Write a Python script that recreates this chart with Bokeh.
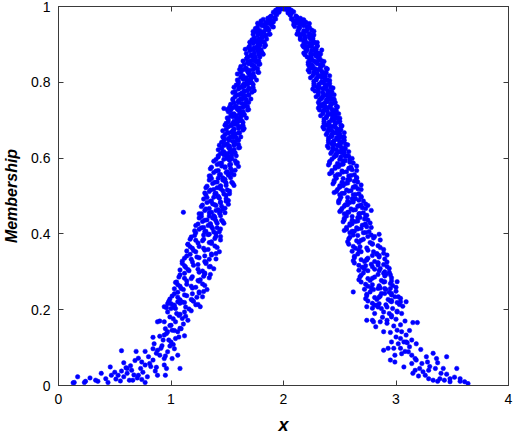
from bokeh.plotting import figure
from bokeh.models import Range1d, LinearAxis, FixedTicker, ColumnDataSource
from bokeh.embed import file_html
from bokeh.resources import INLINE

# ---- data ----
x_ticks = [0, 1, 2, 3, 4]
y_ticks = [0, 0.2, 0.4, 0.6, 0.8, 1]
x_tick_labels = ["0", "1", "2", "3", "4"]
y_tick_labels = ["0", "0.2", "0.4", "0.6", "0.8", "1"]

cap_points = [
    (2.00, 1.000), (1.99, 1.000), (1.97, 0.998), (1.95, 0.995), (1.93, 0.990), (1.96, 0.985), (1.91, 0.985),
    (1.94, 0.978), (1.89, 0.975), (1.92, 0.970), (1.87, 0.965), (1.98, 0.993), (1.90, 0.962),
    (1.88, 0.972), (1.93, 0.981), (1.96, 0.992), (1.85, 0.958), (1.99, 0.996),
    (2.01, 1.000), (2.03, 0.997), (2.05, 0.994), (2.07, 0.990), (2.04, 0.983), (2.09, 0.986),
    (2.06, 0.977), (2.11, 0.975), (2.08, 0.968), (2.13, 0.966), (2.02, 0.992), (2.10, 0.960),
    (2.12, 0.972), (2.07, 0.982), (2.04, 0.991), (2.15, 0.958), (2.00, 0.999),
]

left_upper = [
    (1.80, 0.962), (1.84, 0.957), (1.87, 0.965), (1.91, 0.959),
    (1.80, 0.953), (1.84, 0.948), (1.87, 0.955), (1.91, 0.946),
    (1.75, 0.942), (1.79, 0.937), (1.84, 0.944), (1.86, 0.939),
    (1.76, 0.933), (1.80, 0.928), (1.83, 0.935), (1.87, 0.927),
    (1.77, 0.923), (1.81, 0.918), (1.84, 0.924), (1.74, 0.916),
    (1.72, 0.912), (1.76, 0.907), (1.79, 0.914), (1.83, 0.905),
    (1.73, 0.903), (1.77, 0.897), (1.80, 0.905), (1.84, 0.898),
    (1.69, 0.892), (1.73, 0.887), (1.78, 0.894), (1.80, 0.886),
    (1.70, 0.883), (1.74, 0.877), (1.77, 0.884), (1.81, 0.878),
    (1.71, 0.872), (1.75, 0.867), (1.78, 0.874), (1.68, 0.866),
    (1.67, 0.862), (1.71, 0.857), (1.74, 0.864), (1.78, 0.856),
    (1.68, 0.853), (1.72, 0.847), (1.75, 0.855), (1.79, 0.848),
    (1.62, 0.842), (1.67, 0.837), (1.72, 0.844), (1.77, 0.836),
    (1.64, 0.833), (1.69, 0.827), (1.73, 0.834), (1.78, 0.826),
    (1.59, 0.822), (1.64, 0.817), (1.69, 0.824), (1.73, 0.818),
    (1.62, 0.813), (1.67, 0.807), (1.71, 0.814), (1.76, 0.806),
    (1.60, 0.802), (1.65, 0.797), (1.68, 0.805), (1.72, 0.798),
    (1.58, 0.793), (1.63, 0.787), (1.68, 0.794), (1.73, 0.786),
    (1.60, 0.782), (1.65, 0.777), (1.69, 0.784), (1.74, 0.778),
    (1.55, 0.773), (1.60, 0.767), (1.65, 0.775), (1.69, 0.766),
    (1.57, 0.762), (1.62, 0.757), (1.66, 0.764), (1.71, 0.756),
    (1.55, 0.753), (1.60, 0.747), (1.63, 0.755), (1.67, 0.748),
    (1.53, 0.742), (1.58, 0.737), (1.63, 0.744), (1.68, 0.736),
    (1.55, 0.733), (1.60, 0.727), (1.64, 0.734), (1.69, 0.728),
    (1.51, 0.722), (1.56, 0.717), (1.61, 0.725), (1.65, 0.716),
    (1.53, 0.712), (1.58, 0.707), (1.62, 0.714), (1.67, 0.706),
    (1.51, 0.703), (1.56, 0.697), (1.59, 0.705), (1.63, 0.698),
    (1.49, 0.692), (1.54, 0.687), (1.59, 0.694), (1.64, 0.686),
    (1.51, 0.683), (1.56, 0.677), (1.60, 0.684), (1.65, 0.678),
    (1.46, 0.672), (1.51, 0.667), (1.56, 0.675), (1.60, 0.666),
    (1.48, 0.662), (1.53, 0.657), (1.57, 0.664), (1.62, 0.656),
    (1.47, 0.653), (1.52, 0.647), (1.55, 0.655), (1.59, 0.648),
    (1.45, 0.642), (1.50, 0.637), (1.55, 0.644), (1.60, 0.636),
    (1.47, 0.633), (1.52, 0.627), (1.56, 0.634), (1.61, 0.628),
    (1.42, 0.622), (1.47, 0.617), (1.52, 0.625), (1.56, 0.616),
    (1.44, 0.612), (1.49, 0.607), (1.53, 0.614), (1.58, 0.606),
    (1.42, 0.603), (1.47, 0.597), (1.50, 0.605), (1.54, 0.598),
    (1.47, 0.731), (1.50, 0.728),
]

left_upper_b = [
    (1.82, 0.966), (1.86, 0.969), (1.89, 0.963), (1.93, 0.967),
    (1.77, 0.956), (1.82, 0.952), (1.86, 0.958), (1.89, 0.954),
    (1.77, 0.946), (1.81, 0.949), (1.86, 0.943), (1.90, 0.947),
    (1.78, 0.936), (1.82, 0.932), (1.87, 0.938), (1.73, 0.934),
    (1.73, 0.926), (1.79, 0.929), (1.84, 0.923), (1.88, 0.927),
    (1.74, 0.916), (1.78, 0.912), (1.81, 0.918), (1.85, 0.914),
    (1.70, 0.906), (1.75, 0.909), (1.79, 0.903), (1.82, 0.907),
    (1.70, 0.896), (1.74, 0.892), (1.79, 0.898), (1.83, 0.894),
    (1.71, 0.886), (1.75, 0.889), (1.80, 0.883), (1.66, 0.887),
    (1.67, 0.876), (1.73, 0.872), (1.78, 0.878), (1.82, 0.874),
    (1.68, 0.866), (1.72, 0.869), (1.75, 0.863), (1.79, 0.867),
    (1.64, 0.856), (1.69, 0.852), (1.73, 0.858), (1.76, 0.854),
    (1.65, 0.846), (1.69, 0.849), (1.74, 0.843), (1.78, 0.847),
    (1.66, 0.836), (1.70, 0.832), (1.75, 0.838), (1.61, 0.834),
    (1.62, 0.826), (1.68, 0.829), (1.73, 0.823), (1.77, 0.827),
    (1.63, 0.816), (1.67, 0.812), (1.70, 0.818), (1.74, 0.814),
    (1.59, 0.806), (1.64, 0.809), (1.68, 0.803), (1.71, 0.807),
    (1.60, 0.796), (1.64, 0.792), (1.69, 0.798), (1.73, 0.794),
    (1.61, 0.786), (1.65, 0.789), (1.70, 0.783), (1.56, 0.787),
    (1.57, 0.776), (1.63, 0.772), (1.68, 0.778), (1.72, 0.774),
    (1.58, 0.766), (1.62, 0.769), (1.65, 0.763), (1.69, 0.767),
    (1.55, 0.756), (1.60, 0.752), (1.64, 0.758), (1.67, 0.754),
    (1.56, 0.746), (1.60, 0.749), (1.65, 0.743), (1.69, 0.747),
    (1.57, 0.736), (1.61, 0.732), (1.66, 0.738), (1.52, 0.734),
    (1.53, 0.726), (1.59, 0.729), (1.64, 0.723), (1.68, 0.727),
    (1.54, 0.716), (1.58, 0.712), (1.61, 0.718), (1.65, 0.714),
    (1.50, 0.706), (1.55, 0.709), (1.59, 0.703), (1.62, 0.707),
    (1.51, 0.696), (1.55, 0.692), (1.60, 0.698), (1.64, 0.694),
    (1.53, 0.686), (1.57, 0.689), (1.62, 0.683), (1.48, 0.687),
    (1.49, 0.676), (1.55, 0.672), (1.60, 0.678), (1.64, 0.674),
    (1.50, 0.666), (1.54, 0.669), (1.57, 0.663), (1.61, 0.667),
    (1.46, 0.656), (1.51, 0.652), (1.55, 0.658), (1.58, 0.654),
    (1.47, 0.646), (1.51, 0.649), (1.56, 0.643), (1.60, 0.647),
    (1.48, 0.636), (1.52, 0.632), (1.57, 0.638), (1.43, 0.634),
    (1.45, 0.626), (1.51, 0.629), (1.56, 0.623), (1.60, 0.627),
    (1.46, 0.616), (1.50, 0.612), (1.53, 0.618), (1.57, 0.614),
    (1.42, 0.606), (1.47, 0.609), (1.51, 0.603), (1.54, 0.607),
]

left_middle = [
    (1.38, 0.592), (1.45, 0.587), (1.52, 0.594), (1.58, 0.586),
    (1.41, 0.583), (1.48, 0.577), (1.53, 0.584), (1.60, 0.578),
    (1.35, 0.572), (1.42, 0.567), (1.48, 0.575), (1.54, 0.566),
    (1.38, 0.562), (1.44, 0.557), (1.50, 0.564), (1.56, 0.556),
    (1.35, 0.553), (1.42, 0.547), (1.51, 0.555), (1.46, 0.548),
    (1.34, 0.542), (1.41, 0.537), (1.48, 0.544), (1.54, 0.536),
    (1.37, 0.533), (1.44, 0.527), (1.49, 0.534), (1.56, 0.528),
    (1.31, 0.522), (1.38, 0.517), (1.44, 0.525), (1.50, 0.516),
    (1.34, 0.512), (1.40, 0.507), (1.46, 0.514), (1.52, 0.506),
    (1.31, 0.503), (1.38, 0.497), (1.47, 0.505), (1.42, 0.498),
    (1.29, 0.492), (1.36, 0.487), (1.43, 0.494), (1.49, 0.486),
    (1.32, 0.483), (1.39, 0.477), (1.44, 0.484), (1.51, 0.478),
    (1.27, 0.472), (1.34, 0.467), (1.40, 0.475), (1.46, 0.466),
    (1.30, 0.462), (1.36, 0.457), (1.42, 0.464), (1.48, 0.456),
    (1.27, 0.453), (1.34, 0.447), (1.43, 0.455), (1.38, 0.448),
    (1.25, 0.442), (1.32, 0.437), (1.39, 0.444), (1.45, 0.436),
    (1.28, 0.433), (1.35, 0.427), (1.40, 0.434), (1.47, 0.428),
    (1.22, 0.422), (1.29, 0.417), (1.35, 0.425), (1.41, 0.416),
    (1.25, 0.412), (1.31, 0.407), (1.37, 0.414), (1.43, 0.406),
    (1.22, 0.403), (1.29, 0.397), (1.38, 0.405), (1.33, 0.398),
    (1.11, 0.457),
    (1.40, 0.596), (1.50, 0.599), (1.57, 0.593),
    (1.43, 0.586), (1.52, 0.582), (1.59, 0.588),
    (1.36, 0.576), (1.45, 0.579), (1.53, 0.573),
    (1.40, 0.566), (1.49, 0.562), (1.57, 0.568),
    (1.43, 0.556), (1.53, 0.559), (1.34, 0.553),
    (1.36, 0.546), (1.46, 0.542), (1.53, 0.548),
    (1.39, 0.536), (1.48, 0.539), (1.55, 0.533),
    (1.32, 0.526), (1.41, 0.522), (1.49, 0.528),
    (1.35, 0.516), (1.44, 0.519), (1.52, 0.513),
    (1.39, 0.506), (1.49, 0.502), (1.30, 0.508),
    (1.32, 0.496), (1.42, 0.499), (1.49, 0.493),
    (1.35, 0.486), (1.44, 0.482), (1.51, 0.488),
    (1.28, 0.476), (1.37, 0.479), (1.45, 0.473),
    (1.31, 0.466), (1.40, 0.462), (1.48, 0.468),
    (1.34, 0.456), (1.44, 0.459), (1.25, 0.453),
    (1.27, 0.446), (1.37, 0.442), (1.44, 0.448),
    (1.30, 0.436), (1.39, 0.439), (1.46, 0.433),
    (1.24, 0.426), (1.33, 0.422), (1.41, 0.428),
    (1.27, 0.416), (1.36, 0.419), (1.44, 0.413),
    (1.30, 0.406), (1.40, 0.402), (1.21, 0.408),
]

left_lower = [
    (1.18, 0.392), (1.29, 0.386), (1.40, 0.394),
    (1.22, 0.383), (1.34, 0.377), (1.44, 0.384),
    (1.15, 0.372), (1.25, 0.367), (1.36, 0.375),
    (1.19, 0.362), (1.30, 0.357), (1.41, 0.364),
    (1.22, 0.353), (1.36, 0.347), (1.14, 0.355),
    (1.14, 0.342), (1.25, 0.337), (1.36, 0.344),
    (1.18, 0.333), (1.30, 0.327), (1.40, 0.334),
    (1.10, 0.322), (1.20, 0.317), (1.31, 0.325),
    (1.13, 0.312), (1.24, 0.307), (1.35, 0.314),
    (1.16, 0.303), (1.30, 0.297), (1.08, 0.305),
    (1.08, 0.292), (1.19, 0.287), (1.30, 0.294),
    (1.12, 0.283), (1.24, 0.277), (1.34, 0.284),
    (1.04, 0.272), (1.14, 0.267), (1.25, 0.275),
    (1.08, 0.262), (1.19, 0.257), (1.30, 0.264),
    (1.11, 0.253), (1.25, 0.247), (1.03, 0.255),
    (1.03, 0.242), (1.14, 0.237), (1.25, 0.244),
    (1.06, 0.233), (1.18, 0.227), (1.28, 0.234),
    (0.98, 0.222), (1.08, 0.217), (1.19, 0.225),
    (1.02, 0.212), (1.13, 0.207), (1.24, 0.214),
    (1.04, 0.203), (1.18, 0.197), (0.96, 0.205),
    (1.21, 0.396), (1.34, 0.399), (1.44, 0.393),
    (1.17, 0.386), (1.28, 0.382), (1.39, 0.388),
    (1.24, 0.376), (1.36, 0.379), (1.15, 0.373),
    (1.17, 0.366), (1.29, 0.362), (1.39, 0.368),
    (1.20, 0.356), (1.33, 0.359), (1.43, 0.353),
    (1.17, 0.346), (1.30, 0.342), (1.40, 0.348),
    (1.12, 0.336), (1.23, 0.339), (1.34, 0.333),
    (1.19, 0.326), (1.31, 0.322), (1.10, 0.328),
    (1.12, 0.316), (1.24, 0.319), (1.34, 0.313),
    (1.15, 0.306), (1.28, 0.302), (1.38, 0.308),
    (1.12, 0.296), (1.25, 0.299), (1.35, 0.293),
    (1.07, 0.286), (1.18, 0.282), (1.29, 0.288),
    (1.14, 0.276), (1.26, 0.279), (1.05, 0.273),
    (1.06, 0.266), (1.18, 0.262), (1.28, 0.268),
    (1.09, 0.256), (1.22, 0.259), (1.32, 0.253),
    (1.06, 0.246), (1.19, 0.242), (1.29, 0.248),
    (1.01, 0.236), (1.12, 0.239), (1.23, 0.233),
    (1.08, 0.226), (1.20, 0.222), (0.99, 0.228),
    (1.00, 0.216), (1.12, 0.219), (1.22, 0.213),
    (1.03, 0.206), (1.16, 0.202), (1.26, 0.208),
]

left_tail = [
    (0.13, 0.007), (0.14, 0.008), (0.17, 0.023), (0.23, 0.008), (0.24, 0.011), (0.33, 0.014),
    (0.35, 0.011), (0.38, 0.032), (0.42, 0.018), (0.46, 0.049), (0.47, 0.027), (0.51, 0.017),
    (0.53, 0.027), (0.56, 0.038), (0.58, 0.023), (0.60, 0.047), (0.61, 0.045), (0.63, 0.014),
    (0.65, 0.040), (0.66, 0.014), (0.70, 0.020), (0.71, 0.027), (0.73, 0.045), (0.74, 0.062),
    (0.74, 0.016), (0.77, 0.054), (0.79, 0.023), (0.81, 0.058), (0.84, 0.067), (0.88, 0.027),
    (0.87, 0.048), (0.94, 0.054), (0.96, 0.045), (0.94, 0.071), (0.90, 0.080), (0.91, 0.098),
    (0.97, 0.089), (1.01, 0.071), (1.00, 0.115), (1.03, 0.097), (1.06, 0.080), (1.04, 0.124),
    (0.85, 0.110), (0.88, 0.093), (0.84, 0.097), (0.93, 0.120), (0.94, 0.133), (0.97, 0.142),
    (1.01, 0.146), (1.06, 0.142), (1.00, 0.159), (1.04, 0.168), (1.09, 0.150), (1.10, 0.177),
    (1.07, 0.185), (1.12, 0.194), (0.90, 0.170), (0.94, 0.168), (0.97, 0.194), (1.00, 0.203),
    (1.03, 0.212), (0.97, 0.216), (0.94, 0.208), (1.06, 0.221), (1.10, 0.220), (0.56, 0.092),
    (0.69, 0.090), (0.77, 0.090), (0.84, 0.127), (0.88, 0.168), (1.08, 0.188), (1.13, 0.183),
    (1.02, 0.176), (1.15, 0.172), (0.99, 0.158), (1.08, 0.151), (0.96, 0.137), (1.12, 0.131),
    (0.92, 0.105), (0.99, 0.104), (0.80, 0.076), (0.68, 0.066), (0.61, 0.032), (0.55, 0.012),
    (0.86, 0.038), (0.77, 0.008), (0.64, 0.052), (0.71, 0.072), (1.08, 0.045), (0.95, 0.027),
    (1.05, 0.190), (0.99, 0.181), (1.11, 0.162), (1.03, 0.145), (0.95, 0.150), (1.07, 0.128),
    (0.98, 0.120), (0.90, 0.130), (1.02, 0.108), (0.87, 0.085), (0.95, 0.078), (0.82, 0.050),
    (0.75, 0.035), (0.67, 0.028), (0.58, 0.060), (0.50, 0.035), (0.44, 0.008), (0.28, 0.020),
]

right_upper = [
    (2.09, 0.961), (2.13, 0.956), (2.17, 0.964), (2.20, 0.958),
    (2.09, 0.952), (2.14, 0.946), (2.18, 0.954), (2.21, 0.947),
    (2.14, 0.943), (2.18, 0.936), (2.22, 0.945), (2.25, 0.938),
    (2.13, 0.932), (2.16, 0.927), (2.20, 0.934), (2.24, 0.926),
    (2.15, 0.921), (2.19, 0.916), (2.23, 0.924), (2.26, 0.917),
    (2.15, 0.913), (2.20, 0.906), (2.24, 0.914), (2.27, 0.907),
    (2.19, 0.902), (2.23, 0.896), (2.27, 0.904), (2.30, 0.897),
    (2.18, 0.893), (2.21, 0.886), (2.25, 0.894), (2.29, 0.887),
    (2.20, 0.881), (2.24, 0.876), (2.28, 0.884), (2.31, 0.877),
    (2.19, 0.873), (2.24, 0.866), (2.28, 0.874), (2.31, 0.867),
    (2.23, 0.862), (2.27, 0.856), (2.31, 0.864), (2.34, 0.857),
    (2.22, 0.853), (2.25, 0.846), (2.29, 0.854), (2.33, 0.847),
    (2.23, 0.841), (2.28, 0.836), (2.33, 0.843), (2.38, 0.837),
    (2.22, 0.832), (2.27, 0.827), (2.32, 0.834), (2.37, 0.826),
    (2.27, 0.823), (2.32, 0.816), (2.37, 0.824), (2.41, 0.817),
    (2.24, 0.812), (2.29, 0.807), (2.34, 0.814), (2.39, 0.806),
    (2.27, 0.803), (2.32, 0.796), (2.37, 0.804), (2.41, 0.797),
    (2.27, 0.791), (2.32, 0.786), (2.37, 0.793), (2.42, 0.787),
    (2.26, 0.782), (2.31, 0.777), (2.36, 0.784), (2.41, 0.776),
    (2.31, 0.773), (2.36, 0.766), (2.41, 0.774), (2.45, 0.767),
    (2.29, 0.762), (2.34, 0.757), (2.39, 0.764), (2.44, 0.756),
    (2.32, 0.753), (2.37, 0.746), (2.42, 0.754), (2.46, 0.747),
    (2.32, 0.741), (2.37, 0.736), (2.42, 0.743), (2.47, 0.737),
    (2.31, 0.732), (2.36, 0.727), (2.41, 0.734), (2.46, 0.726),
    (2.35, 0.723), (2.40, 0.716), (2.45, 0.724), (2.49, 0.717),
    (2.33, 0.712), (2.38, 0.707), (2.43, 0.714), (2.48, 0.706),
    (2.36, 0.703), (2.41, 0.696), (2.46, 0.704), (2.50, 0.697),
    (2.36, 0.691), (2.41, 0.686), (2.46, 0.693), (2.51, 0.687),
    (2.35, 0.682), (2.40, 0.677), (2.45, 0.684), (2.50, 0.676),
    (2.40, 0.673), (2.45, 0.666), (2.50, 0.674), (2.54, 0.667),
    (2.38, 0.662), (2.43, 0.657), (2.48, 0.664), (2.53, 0.656),
    (2.40, 0.653), (2.45, 0.646), (2.50, 0.654), (2.54, 0.647),
    (2.40, 0.641), (2.45, 0.636), (2.50, 0.643), (2.55, 0.637),
    (2.39, 0.632), (2.44, 0.627), (2.49, 0.634), (2.54, 0.626),
    (2.44, 0.623), (2.49, 0.616), (2.54, 0.624), (2.58, 0.617),
    (2.42, 0.612), (2.47, 0.607), (2.52, 0.614), (2.57, 0.606),
    (2.45, 0.603), (2.50, 0.596), (2.55, 0.604), (2.59, 0.597),
]

right_upper_b = [
    (2.07, 0.967), (2.11, 0.963), (2.15, 0.969), (2.18, 0.965),
    (2.11, 0.957), (2.16, 0.953), (2.19, 0.959), (2.23, 0.955),
    (2.10, 0.947), (2.14, 0.943), (2.18, 0.949), (2.23, 0.945),
    (2.13, 0.937), (2.18, 0.933), (2.21, 0.939), (2.27, 0.935),
    (2.12, 0.927), (2.19, 0.923), (2.23, 0.929), (2.27, 0.925),
    (2.15, 0.917), (2.19, 0.913), (2.23, 0.919), (2.26, 0.915),
    (2.18, 0.907), (2.23, 0.903), (2.26, 0.909), (2.30, 0.905),
    (2.17, 0.897), (2.21, 0.893), (2.25, 0.899), (2.30, 0.895),
    (2.20, 0.887), (2.25, 0.883), (2.28, 0.889), (2.34, 0.885),
    (2.18, 0.877), (2.25, 0.873), (2.29, 0.879), (2.33, 0.875),
    (2.21, 0.867), (2.25, 0.863), (2.29, 0.869), (2.32, 0.865),
    (2.24, 0.857), (2.29, 0.853), (2.32, 0.859), (2.36, 0.855),
    (2.22, 0.847), (2.26, 0.843), (2.30, 0.849), (2.35, 0.845),
    (2.25, 0.837), (2.30, 0.833), (2.33, 0.839), (2.39, 0.835),
    (2.23, 0.827), (2.30, 0.823), (2.34, 0.829), (2.38, 0.825),
    (2.26, 0.817), (2.30, 0.813), (2.34, 0.819), (2.37, 0.815),
    (2.29, 0.807), (2.34, 0.803), (2.37, 0.809), (2.41, 0.805),
    (2.27, 0.797), (2.31, 0.793), (2.35, 0.799), (2.40, 0.795),
    (2.30, 0.787), (2.35, 0.783), (2.38, 0.789), (2.44, 0.785),
    (2.28, 0.777), (2.35, 0.773), (2.39, 0.779), (2.43, 0.775),
    (2.31, 0.767), (2.35, 0.763), (2.39, 0.769), (2.42, 0.765),
    (2.33, 0.757), (2.38, 0.753), (2.41, 0.759), (2.45, 0.755),
    (2.31, 0.747), (2.35, 0.743), (2.39, 0.749), (2.44, 0.745),
    (2.34, 0.737), (2.39, 0.733), (2.42, 0.739), (2.48, 0.735),
    (2.32, 0.727), (2.39, 0.723), (2.43, 0.729), (2.47, 0.725),
    (2.35, 0.717), (2.39, 0.713), (2.43, 0.719), (2.46, 0.715),
    (2.38, 0.707), (2.43, 0.703), (2.46, 0.709), (2.50, 0.705),
    (2.36, 0.697), (2.40, 0.693), (2.44, 0.699), (2.49, 0.695),
    (2.38, 0.687), (2.43, 0.683), (2.46, 0.689), (2.52, 0.685),
    (2.36, 0.677), (2.43, 0.673), (2.47, 0.679), (2.51, 0.675),
    (2.39, 0.667), (2.43, 0.663), (2.47, 0.669), (2.50, 0.665),
    (2.42, 0.657), (2.47, 0.653), (2.50, 0.659), (2.54, 0.655),
    (2.40, 0.647), (2.44, 0.643), (2.48, 0.649), (2.53, 0.645),
    (2.43, 0.637), (2.48, 0.633), (2.51, 0.639), (2.57, 0.635),
    (2.40, 0.627), (2.47, 0.623), (2.51, 0.629), (2.55, 0.625),
    (2.43, 0.617), (2.47, 0.613), (2.51, 0.619), (2.54, 0.615),
    (2.46, 0.607), (2.51, 0.603), (2.54, 0.609), (2.58, 0.605),
]

right_middle = [
    (2.41, 0.591), (2.48, 0.586), (2.55, 0.593), (2.62, 0.587),
    (2.40, 0.582), (2.46, 0.577), (2.53, 0.584), (2.60, 0.576),
    (2.46, 0.573), (2.52, 0.566), (2.59, 0.574), (2.65, 0.567),
    (2.43, 0.562), (2.50, 0.557), (2.56, 0.564), (2.63, 0.556),
    (2.46, 0.553), (2.53, 0.546), (2.60, 0.554), (2.65, 0.547),
    (2.45, 0.541), (2.52, 0.536), (2.59, 0.543), (2.66, 0.537),
    (2.44, 0.532), (2.50, 0.527), (2.57, 0.534), (2.64, 0.526),
    (2.50, 0.523), (2.56, 0.516), (2.63, 0.524), (2.69, 0.517),
    (2.47, 0.512), (2.54, 0.507), (2.60, 0.514), (2.67, 0.506),
    (2.50, 0.503), (2.57, 0.496), (2.64, 0.504), (2.69, 0.497),
    (2.50, 0.491), (2.57, 0.486), (2.64, 0.493), (2.71, 0.487),
    (2.49, 0.482), (2.55, 0.477), (2.62, 0.484), (2.69, 0.476),
    (2.54, 0.473), (2.60, 0.466), (2.67, 0.474), (2.73, 0.467),
    (2.51, 0.462), (2.58, 0.457), (2.64, 0.464), (2.71, 0.456),
    (2.54, 0.453), (2.61, 0.446), (2.68, 0.454), (2.73, 0.447),
    (2.54, 0.441), (2.61, 0.436), (2.68, 0.443), (2.75, 0.437),
    (2.53, 0.432), (2.59, 0.427), (2.66, 0.434), (2.73, 0.426),
    (2.59, 0.423), (2.65, 0.416), (2.72, 0.424), (2.78, 0.417),
    (2.56, 0.412), (2.63, 0.407), (2.69, 0.414), (2.76, 0.406),
    (2.59, 0.403), (2.66, 0.396), (2.73, 0.404), (2.78, 0.397),
    (2.78, 0.462), (2.75, 0.475),
    (2.43, 0.597), (2.53, 0.593), (2.61, 0.599),
    (2.41, 0.587), (2.51, 0.583), (2.59, 0.589),
    (2.49, 0.577), (2.58, 0.573), (2.65, 0.579),
    (2.43, 0.567), (2.53, 0.563), (2.61, 0.569),
    (2.48, 0.557), (2.58, 0.553), (2.41, 0.559),
    (2.47, 0.547), (2.57, 0.543), (2.65, 0.549),
    (2.45, 0.537), (2.55, 0.533), (2.63, 0.539),
    (2.53, 0.527), (2.62, 0.523), (2.69, 0.529),
    (2.48, 0.517), (2.58, 0.513), (2.66, 0.519),
    (2.52, 0.507), (2.62, 0.503), (2.45, 0.509),
    (2.51, 0.497), (2.61, 0.493), (2.69, 0.499),
    (2.49, 0.487), (2.59, 0.483), (2.67, 0.489),
    (2.57, 0.477), (2.66, 0.473), (2.73, 0.479),
    (2.52, 0.467), (2.62, 0.463), (2.70, 0.469),
    (2.57, 0.457), (2.67, 0.453), (2.50, 0.459),
    (2.56, 0.447), (2.66, 0.443), (2.74, 0.449),
    (2.54, 0.437), (2.64, 0.433), (2.72, 0.439),
    (2.61, 0.427), (2.70, 0.423), (2.77, 0.429),
    (2.56, 0.417), (2.66, 0.413), (2.74, 0.419),
    (2.61, 0.407), (2.71, 0.403), (2.54, 0.409),
]

right_lower = [
    (2.59, 0.391), (2.71, 0.386), (2.81, 0.393),
    (2.65, 0.382), (2.77, 0.377), (2.86, 0.384),
    (2.58, 0.373), (2.68, 0.366), (2.79, 0.374),
    (2.64, 0.362), (2.75, 0.357), (2.86, 0.364),
    (2.69, 0.353), (2.83, 0.346), (2.61, 0.354),
    (2.63, 0.341), (2.75, 0.336), (2.85, 0.343),
    (2.69, 0.332), (2.81, 0.327), (2.90, 0.334),
    (2.63, 0.323), (2.73, 0.316), (2.84, 0.324),
    (2.70, 0.312), (2.81, 0.307), (2.92, 0.314),
    (2.75, 0.303), (2.89, 0.296), (2.67, 0.304),
    (2.69, 0.291), (2.81, 0.286), (2.91, 0.293),
    (2.75, 0.282), (2.87, 0.277), (2.96, 0.284),
    (2.69, 0.273), (2.79, 0.266), (2.90, 0.274),
    (2.75, 0.262), (2.86, 0.257), (2.97, 0.264),
    (2.80, 0.253), (2.94, 0.246), (2.72, 0.254),
    (2.74, 0.241), (2.86, 0.236), (2.96, 0.243),
    (2.81, 0.232), (2.93, 0.227), (3.02, 0.234),
    (2.75, 0.223), (2.85, 0.216), (2.96, 0.224),
    (2.81, 0.212), (2.92, 0.207), (3.03, 0.214),
    (2.87, 0.203), (3.01, 0.196), (2.79, 0.204),
    (2.62, 0.397), (2.75, 0.393), (2.85, 0.399),
    (2.58, 0.387), (2.69, 0.383), (2.80, 0.389),
    (2.67, 0.377), (2.79, 0.373), (2.57, 0.379),
    (2.62, 0.367), (2.74, 0.363), (2.84, 0.369),
    (2.67, 0.357), (2.80, 0.353), (2.89, 0.359),
    (2.66, 0.347), (2.79, 0.343), (2.89, 0.349),
    (2.63, 0.337), (2.74, 0.333), (2.85, 0.339),
    (2.72, 0.327), (2.84, 0.323), (2.62, 0.329),
    (2.67, 0.317), (2.79, 0.313), (2.89, 0.319),
    (2.72, 0.307), (2.85, 0.303), (2.94, 0.309),
    (2.71, 0.297), (2.84, 0.293), (2.94, 0.299),
    (2.68, 0.287), (2.79, 0.283), (2.90, 0.289),
    (2.77, 0.277), (2.89, 0.273), (2.67, 0.279),
    (2.73, 0.267), (2.85, 0.263), (2.95, 0.269),
    (2.78, 0.257), (2.91, 0.253), (3.00, 0.259),
    (2.77, 0.247), (2.90, 0.243), (3.00, 0.249),
    (2.74, 0.237), (2.85, 0.233), (2.96, 0.239),
    (2.83, 0.227), (2.95, 0.223), (2.73, 0.229),
    (2.79, 0.217), (2.91, 0.213), (3.01, 0.219),
    (2.84, 0.207), (2.97, 0.203), (3.06, 0.209),
]

right_tail = [
    (2.74, 0.208), (2.74, 0.172), (2.82, 0.155), (2.89, 0.142), (2.89, 0.093), (2.93, 0.098),
    (2.96, 0.115), (2.98, 0.098), (2.95, 0.067), (2.99, 0.080), (3.02, 0.110), (3.04, 0.098),
    (3.05, 0.084), (3.04, 0.124), (3.07, 0.115), (3.09, 0.115), (3.14, 0.120), (3.12, 0.102),
    (3.11, 0.089), (3.14, 0.080), (3.17, 0.071), (2.99, 0.062), (3.07, 0.049), (3.14, 0.058),
    (3.18, 0.067), (3.23, 0.058), (3.21, 0.045), (3.27, 0.076), (3.28, 0.062), (3.36, 0.071),
    (3.37, 0.060), (3.45, 0.076), (3.54, 0.045), (3.42, 0.045), (3.35, 0.045), (3.29, 0.040),
    (3.24, 0.036), (3.17, 0.040), (3.15, 0.032), (3.26, 0.027), (3.29, 0.018), (3.33, 0.014),
    (3.39, 0.018), (3.40, 0.032), (3.43, 0.014), (3.48, 0.018), (3.57, 0.018), (3.57, 0.011),
    (3.61, 0.010), (2.96, 0.181), (3.15, 0.166), (3.19, 0.166), (2.80, 0.168), (2.86, 0.168),
    (2.92, 0.164), (3.01, 0.146), (3.04, 0.160), (2.98, 0.157), (3.05, 0.142), (3.09, 0.133),
    (3.10, 0.113), (3.37, 0.011), (3.48, 0.010), (3.64, 0.005),
    (3.05, 0.190), (3.01, 0.194), (2.96, 0.185), (2.92, 0.172), (3.04, 0.230), (2.99, 0.234),
    (3.04, 0.221), (3.09, 0.221), (2.96, 0.221), (2.95, 0.256), (2.90, 0.256), (2.87, 0.243),
    (2.84, 0.256), (3.01, 0.274), (2.96, 0.276), (2.90, 0.300), (2.86, 0.309), (2.95, 0.292),
    (2.92, 0.326), (2.84, 0.318), (2.78, 0.320), (2.74, 0.331), (2.92, 0.344), (2.83, 0.348),
    (2.62, 0.247), (2.79, 0.172), (2.83, 0.212), (2.89, 0.194), (2.81, 0.190),
    (2.94, 0.190), (3.00, 0.175), (2.88, 0.180), (3.08, 0.170), (2.95, 0.140), (3.12, 0.145),
    (3.00, 0.128), (3.18, 0.110), (3.08, 0.090), (3.22, 0.095), (3.30, 0.050), (3.20, 0.025),
    (3.45, 0.030), (3.52, 0.022), (3.33, 0.085),
]

all_points = (cap_points + left_upper + left_upper_b + left_middle + left_lower + left_tail
              + right_upper + right_upper_b + right_middle + right_lower + right_tail)
xs = [pt[0] for pt in all_points]
ys = [pt[1] for pt in all_points]
source = ColumnDataSource(data=dict(x=xs, y=ys))

# ---- figure ----
AX = "#3a3a3a"
p = figure(width=514, height=437, x_range=Range1d(0, 4), y_range=Range1d(0, 1),
           output_backend="svg", toolbar_location=None,
           min_border_left=56, min_border_right=6, min_border_top=6, min_border_bottom=50)
p.xgrid.visible = False
p.ygrid.visible = False
p.outline_line_color = AX
p.outline_line_width = 1
p.background_fill_color = "white"
p.border_fill_color = "white"

p.scatter("x", "y", source=source, size=4.5, marker="circle",
          fill_color="#0000ff", line_color="#0000ff", line_width=0.5)

def style_axis(ax, ticks, labels, show_labels):
    ax.ticker = FixedTicker(ticks=ticks)
    ax.major_tick_in = 5
    ax.major_tick_out = 0
    ax.minor_tick_in = 0
    ax.minor_tick_out = 0
    ax.axis_line_color = AX
    ax.major_tick_line_color = AX
    ax.major_label_overrides = dict(zip(ticks, labels))
    if show_labels:
        ax.major_label_text_font = "Liberation Sans"
        ax.major_label_text_font_size = "14px"
        ax.major_label_text_color = "#000000"
    else:
        ax.major_label_text_font_size = "1px"
        ax.major_label_text_color = None
        ax.major_label_standoff = 0

xa = p.xaxis[0]
ya = p.yaxis[0]
style_axis(xa, x_ticks, x_tick_labels, True)
style_axis(ya, y_ticks, y_tick_labels, True)
xa.major_label_standoff = 8
ya.major_label_standoff = 8

xa.axis_label = "x"
xa.axis_label_text_font = "Liberation Sans"
xa.axis_label_text_font_style = "bold italic"
xa.axis_label_text_font_size = "18px"
xa.axis_label_text_color = "#000000"
xa.axis_label_standoff = 8
ya.axis_label = "Membership"
ya.axis_label_text_font = "Liberation Sans"
ya.axis_label_text_font_style = "bold italic"
ya.axis_label_text_font_size = "16px"
ya.axis_label_text_color = "#000000"
ya.axis_label_standoff = 8

top_axis = LinearAxis()
right_axis = LinearAxis()
style_axis(top_axis, x_ticks, x_tick_labels, False)
style_axis(right_axis, y_ticks, y_tick_labels, False)
p.add_layout(top_axis, "above")
p.add_layout(right_axis, "right")

open("out.html", "w").write(file_html(p, INLINE))
